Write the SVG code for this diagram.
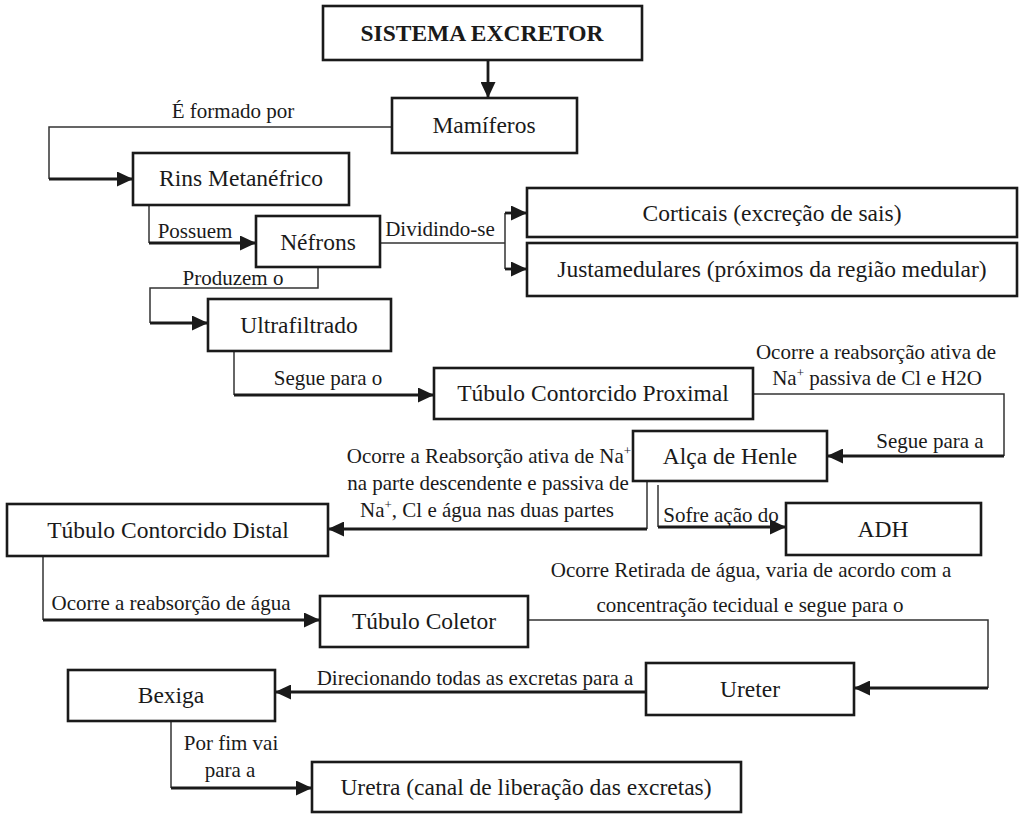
<svg xmlns="http://www.w3.org/2000/svg" width="1023" height="814" viewBox="0 0 1023 814">
<defs>
<style>
.box{fill:#fff;stroke:#1a1a1a;stroke-width:2.6}
.nt{font-size:23.5px;fill:#1a1a1a;text-anchor:middle}
.bt{font-weight:bold;font-size:23.5px}
.lb{font-size:21px;fill:#1a1a1a;text-anchor:middle}
.thin{fill:none;stroke:#333;stroke-width:1.5}
.thick{fill:none;stroke:#1a1a1a;stroke-width:2.8;marker-end:url(#ah)}
</style>
<marker id="ah" markerUnits="userSpaceOnUse" markerWidth="17" markerHeight="15" refX="16" refY="7.5" orient="auto">
<path d="M0,0 L16,7.5 L0,15 z" fill="#1a1a1a"/>
</marker>
</defs>

<g id="connectors">
<path class="thick" d="M488,61 V98"/>
<path class="thin" d="M392,127 H49 V179"/>
<path class="thick" d="M49,179 H133"/>
<path class="thin" d="M149,205 V243"/>
<path class="thick" d="M149,243 H256"/>
<path class="thin" d="M380,243 H505 M505,213 V269"/>
<path class="thick" d="M505,213 H527"/>
<path class="thick" d="M505,269 H527"/>
<path class="thin" d="M318,267 V288 H150 V323"/>
<path class="thick" d="M150,323 H208"/>
<path class="thin" d="M234,351 V395"/>
<path class="thick" d="M234,395 H434"/>
<path class="thin" d="M753,394 H1004 V456"/>
<path class="thick" d="M1004,456 H827"/>
<path class="thin" d="M647,481 V529"/>
<path class="thick" d="M647,529 H328"/>
<path class="thin" d="M658,485 V527"/>
<path class="thick" d="M658,527 H786"/>
<path class="thin" d="M43,556 V620"/>
<path class="thick" d="M43,620 H320"/>
<path class="thin" d="M528,620 H988 V688"/>
<path class="thick" d="M988,688 H854"/>
<path class="thick" d="M646,692 H275"/>
<path class="thin" d="M171,721 V788"/>
<path class="thick" d="M171,788 H312"/>
</g>

<g id="labels" font-family="'Liberation Serif', 'Times New Roman', serif">
<text class="lb" x="233" y="118">É formado por</text>
<text class="lb" x="195" y="238">Possuem</text>
<text class="lb" x="440" y="236">Dividindo-se</text>
<text class="lb" x="233" y="285">Produzem o</text>
<text class="lb" x="328" y="385">Segue para o</text>
<text class="lb" x="876" y="359">Ocorre a reabsorção ativa de</text>
<text class="lb" x="877" y="385">Na<tspan dy="-8" font-size="13">+</tspan><tspan dy="8"> passiva de Cl e H2O</tspan></text>
<text class="lb" x="930" y="448">Segue para a</text>
<text class="lb" x="489" y="463">Ocorre a Reabsorção ativa de Na<tspan dy="-8" font-size="13">+</tspan></text>
<text class="lb" x="488" y="490">na parte descendente e passiva de</text>
<text class="lb" x="487" y="517">Na<tspan dy="-8" font-size="13">+</tspan><tspan dy="8">, Cl e água nas duas partes</tspan></text>
<text class="lb" x="721" y="522">Sofre ação do</text>
<text class="lb" x="171" y="610">Ocorre a reabsorção de água</text>
<text class="lb" x="751" y="577">Ocorre Retirada de água, varia de acordo com a</text>
<text class="lb" x="750" y="612">concentração tecidual e segue para o</text>
<text class="lb" x="475" y="685">Direcionando todas as excretas para a</text>
<text class="lb" x="231" y="750">Por fim vai</text>
<text class="lb" x="230" y="777">para a</text>
</g>

<g id="nodes" font-family="'Liberation Serif', 'Times New Roman', serif">
<g id="n-sistema"><rect class="box" x="323" y="6" width="319" height="54"/><text class="nt bt" x="482" y="41">SISTEMA EXCRETOR</text></g>
<g id="n-mamiferos"><rect class="box" x="392" y="98" width="185" height="55"/><text class="nt" x="484" y="133">Mamíferos</text></g>
<g id="n-rins"><rect class="box" x="133" y="153" width="216" height="52"/><text class="nt" x="241" y="186">Rins Metanéfrico</text></g>
<g id="n-nefrons"><rect class="box" x="256" y="216" width="124" height="51"/><text class="nt" x="318" y="250">Néfrons</text></g>
<g id="n-corticais"><rect class="box" x="527" y="188" width="490" height="49"/><text class="nt" x="772" y="221">Corticais (excreção de sais)</text></g>
<g id="n-justa"><rect class="box" x="527" y="243" width="490" height="53"/><text class="nt" x="772" y="277">Justamedulares (próximos da região medular)</text></g>
<g id="n-ultra"><rect class="box" x="208" y="299" width="183" height="52"/><text class="nt" x="299" y="333">Ultrafiltrado</text></g>
<g id="n-tcp"><rect class="box" x="434" y="368" width="319" height="51"/><text class="nt" x="593" y="401">Túbulo Contorcido Proximal</text></g>
<g id="n-alca"><rect class="box" x="633" y="431" width="194" height="50"/><text class="nt" x="730" y="464">Alça de Henle</text></g>
<g id="n-adh"><rect class="box" x="786" y="503" width="195" height="52"/><text class="nt" x="883" y="537">ADH</text></g>
<g id="n-tcd"><rect class="box" x="7" y="504" width="321" height="52"/><text class="nt" x="168" y="538">Túbulo Contorcido Distal</text></g>
<g id="n-tc"><rect class="box" x="320" y="596" width="208" height="51"/><text class="nt" x="424" y="629">Túbulo Coletor</text></g>
<g id="n-ureter"><rect class="box" x="646" y="663" width="208" height="52"/><text class="nt" x="750" y="697">Ureter</text></g>
<g id="n-bexiga"><rect class="box" x="68" y="670" width="207" height="51"/><text class="nt" x="171" y="703">Bexiga</text></g>
<g id="n-uretra"><rect class="box" x="312" y="762" width="429" height="50"/><text class="nt" x="526" y="795">Uretra (canal de liberação das excretas)</text></g>
</g>
</svg>
